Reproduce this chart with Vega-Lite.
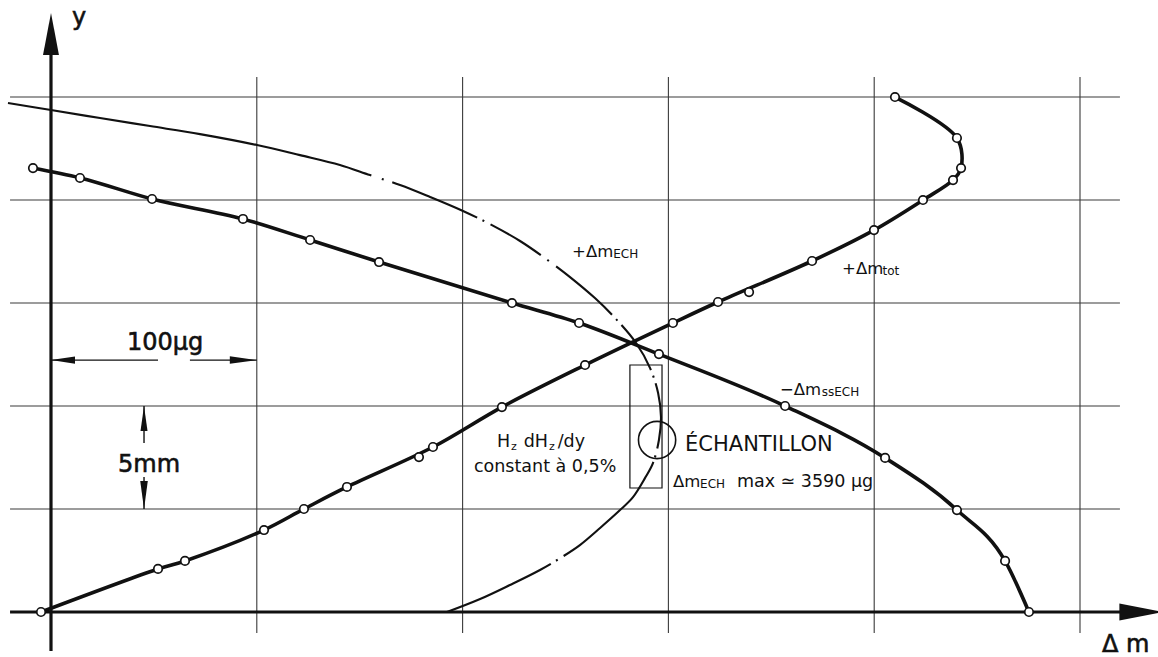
{
  "$schema": "https://vega.github.io/schema/vega-lite/v6.json",
  "width": 1158,
  "height": 657,
  "autosize": "none",
  "padding": 0,
  "background": "white",
  "config": {"view": {"stroke": null}},
  "datasets": {
    "seg": [
      {"k": "g", "x": 100, "y": -1.02, "x2": 100, "y2": 25.97},
      {"k": "g", "x": 200, "y": -1.02, "x2": 200, "y2": 25.97},
      {"k": "g", "x": 300, "y": -1.02, "x2": 300, "y2": 25.97},
      {"k": "g", "x": 400, "y": -1.02, "x2": 400, "y2": 25.97},
      {"k": "g", "x": 500, "y": -1.02, "x2": 500, "y2": 25.97},
      {"k": "g", "x": -19.9, "y": 5, "x2": 519.4, "y2": 5},
      {"k": "g", "x": -19.9, "y": 10, "x2": 519.4, "y2": 10},
      {"k": "g", "x": -19.9, "y": 15, "x2": 519.4, "y2": 15},
      {"k": "g", "x": -19.9, "y": 20, "x2": 519.4, "y2": 20},
      {"k": "g", "x": -19.9, "y": 25, "x2": 519.4, "y2": 25},
      {"k": "ax", "x": -19.9, "y": 0, "x2": 528, "y2": 0},
      {"k": "ax", "x": 0, "y": -1.89, "x2": 0, "y2": 27.5},
      {"k": "dim", "x": 0, "y": 12.23, "x2": 52.0, "y2": 12.23},
      {"k": "dim", "x": 67.5, "y": 12.23, "x2": 100, "y2": 12.23},
      {"k": "dim", "x": 45.2, "y": 10.0, "x2": 45.2, "y2": 8.2},
      {"k": "dim", "x": 45.2, "y": 6.55, "x2": 45.2, "y2": 5.0}
    ],
    "curves": [
      {"s": "ech", "i": 0, "x": -20.9, "y": 24.71, "ln": true, "mk": false},
      {"s": "ech", "i": 1, "x": 0, "y": 24.37, "ln": true, "mk": false},
      {"s": "ech", "i": 2, "x": 23.8, "y": 23.98, "ln": true, "mk": false},
      {"s": "ech", "i": 3, "x": 48.1, "y": 23.59, "ln": true, "mk": false},
      {"s": "ech", "i": 4, "x": 72.4, "y": 23.2, "ln": true, "mk": false},
      {"s": "ech", "i": 5, "x": 100.1, "y": 22.67, "ln": true, "mk": false},
      {"s": "ech", "i": 6, "x": 121.0, "y": 22.18, "ln": true, "mk": false},
      {"s": "ech", "i": 7, "x": 140.4, "y": 21.7, "ln": true, "mk": false},
      {"s": "ech", "i": 8, "x": 155.0, "y": 21.21, "ln": true, "mk": false},
      {"s": "ech", "i": 9, "x": 169.6, "y": 20.73, "ln": true, "mk": false},
      {"s": "ech", "i": 10, "x": 184.2, "y": 20.15, "ln": true, "mk": false},
      {"s": "ech", "i": 11, "x": 200.2, "y": 19.47, "ln": true, "mk": false},
      {"s": "ech", "i": 12, "x": 213.3, "y": 18.83, "ln": true, "mk": false},
      {"s": "ech", "i": 13, "x": 227.9, "y": 18.01, "ln": true, "mk": false},
      {"s": "ech", "i": 14, "x": 240.0, "y": 17.18, "ln": true, "mk": false},
      {"s": "ech", "i": 15, "x": 252.2, "y": 16.26, "ln": true, "mk": false},
      {"s": "ech", "i": 16, "x": 264.3, "y": 15.24, "ln": true, "mk": false},
      {"s": "ech", "i": 17, "x": 274.1, "y": 14.27, "ln": true, "mk": false},
      {"s": "ech", "i": 18, "x": 284.3, "y": 13.06, "ln": true, "mk": false},
      {"s": "ech", "i": 19, "x": 291.1, "y": 11.84, "ln": true, "mk": false},
      {"s": "ech", "i": 20, "x": 295.0, "y": 10.63, "ln": true, "mk": false},
      {"s": "ech", "i": 21, "x": 296.4, "y": 9.47, "ln": true, "mk": false},
      {"s": "ech", "i": 22, "x": 295.4, "y": 8.35, "ln": true, "mk": false},
      {"s": "ech", "i": 23, "x": 292.5, "y": 7.23, "ln": true, "mk": false},
      {"s": "ech", "i": 24, "x": 288.6, "y": 6.5, "ln": true, "mk": false},
      {"s": "ech", "i": 25, "x": 282.8, "y": 5.58, "ln": true, "mk": false},
      {"s": "ech", "i": 26, "x": 276.5, "y": 4.95, "ln": true, "mk": false},
      {"s": "ech", "i": 27, "x": 266.8, "y": 4.08, "ln": true, "mk": false},
      {"s": "ech", "i": 28, "x": 257.0, "y": 3.25, "ln": true, "mk": false},
      {"s": "ech", "i": 29, "x": 248.3, "y": 2.67, "ln": true, "mk": false},
      {"s": "ech", "i": 30, "x": 237.6, "y": 2.04, "ln": true, "mk": false},
      {"s": "ech", "i": 31, "x": 223.0, "y": 1.31, "ln": true, "mk": false},
      {"s": "ech", "i": 32, "x": 208.5, "y": 0.63, "ln": true, "mk": false},
      {"s": "ech", "i": 33, "x": 192.4, "y": 0, "ln": true, "mk": false},

      {"s": "tot", "i": 0, "x": -4.86, "y": 0, "ln": true, "mk": true},
      {"s": "tot", "i": 1, "x": 52.0, "y": 2.09, "ln": true, "mk": true},
      {"s": "tot", "i": 2, "x": 65.1, "y": 2.48, "ln": true, "mk": true},
      {"s": "tot", "i": 3, "x": 103.5, "y": 3.98, "ln": true, "mk": true},
      {"s": "tot", "i": 4, "x": 122.9, "y": 5.0, "ln": true, "mk": true},
      {"s": "tot", "i": 5, "x": 143.8, "y": 6.07, "ln": true, "mk": true},
      {"s": "tot", "i": 6, "x": 178.8, "y": 7.52, "ln": false, "mk": true},
      {"s": "tot", "i": 7, "x": 185.6, "y": 8.01, "ln": true, "mk": true},
      {"s": "tot", "i": 8, "x": 219.1, "y": 9.95, "ln": true, "mk": true},
      {"s": "tot", "i": 9, "x": 259.5, "y": 11.99, "ln": true, "mk": true},
      {"s": "tot", "i": 10, "x": 302.2, "y": 14.03, "ln": true, "mk": true},
      {"s": "tot", "i": 11, "x": 324.1, "y": 15.05, "ln": true, "mk": true},
      {"s": "tot", "i": 12, "x": 339.2, "y": 15.53, "ln": false, "mk": true},
      {"s": "tot", "i": 13, "x": 369.8, "y": 17.04, "ln": true, "mk": true},
      {"s": "tot", "i": 14, "x": 399.9, "y": 18.54, "ln": true, "mk": true},
      {"s": "tot", "i": 15, "x": 423.7, "y": 20.0, "ln": true, "mk": true},
      {"s": "tot", "i": 16, "x": 438.3, "y": 20.97, "ln": true, "mk": true},
      {"s": "tot", "i": 17, "x": 442.2, "y": 21.55, "ln": true, "mk": true},
      {"s": "tot", "i": 18, "x": 440.2, "y": 23.01, "ln": true, "mk": true},
      {"s": "tot", "i": 19, "x": 410.1, "y": 25.0, "ln": true, "mk": true},

      {"s": "ss", "i": 0, "x": -8.75, "y": 21.55, "ln": true, "mk": true},
      {"s": "ss", "i": 1, "x": 14.1, "y": 21.07, "ln": true, "mk": true},
      {"s": "ss", "i": 2, "x": 49.1, "y": 20.05, "ln": true, "mk": true},
      {"s": "ss", "i": 3, "x": 93.3, "y": 19.08, "ln": true, "mk": true},
      {"s": "ss", "i": 4, "x": 125.9, "y": 18.06, "ln": true, "mk": true},
      {"s": "ss", "i": 5, "x": 159.4, "y": 16.99, "ln": true, "mk": true},
      {"s": "ss", "i": 6, "x": 224.0, "y": 15.0, "ln": true, "mk": true},
      {"s": "ss", "i": 7, "x": 256.6, "y": 14.03, "ln": true, "mk": true},
      {"s": "ss", "i": 8, "x": 295.4, "y": 12.52, "ln": true, "mk": true},
      {"s": "ss", "i": 9, "x": 356.7, "y": 10.0, "ln": true, "mk": true},
      {"s": "ss", "i": 10, "x": 405.3, "y": 7.48, "ln": true, "mk": true},
      {"s": "ss", "i": 11, "x": 440.2, "y": 4.95, "ln": true, "mk": true},
      {"s": "ss", "i": 12, "x": 463.6, "y": 2.48, "ln": true, "mk": true},
      {"s": "ss", "i": 13, "x": 475.2, "y": 0, "ln": true, "mk": true}
    ],
    "arr": [
      {"k": "upbig", "x": 0, "y": 29.08},
      {"k": "rightbig", "x": 540.5, "y": 0},
      {"k": "left", "x": 0, "y": 12.23},
      {"k": "right", "x": 100, "y": 12.23},
      {"k": "up", "x": 45.2, "y": 10.0},
      {"k": "down", "x": 45.2, "y": 5.0}
    ],
    "box": [
      {"x": 281.3, "x2": 296.9, "y": 11.99, "y2": 6.02}
    ],
    "ring": [
      {"x": 294.5, "y": 8.35}
    ],
    "lab": [
      {"k": "big", "t": "y", "x": 10.2, "y": 28.5},
      {"k": "big", "t": "100µg", "x": 36.9, "y": 12.72},
      {"k": "big", "t": "5mm", "x": 32.6, "y": 6.8},
      {"k": "big", "t": "Δ m", "x": 510.7, "y": -1.94},
      {"k": "mid", "t": "+Δm", "x": 253.2, "y": 17.23},
      {"k": "mid", "t": "+Δm", "x": 384.4, "y": 16.41},
      {"k": "mid", "t": "−Δm", "x": 354.2, "y": 10.53},
      {"k": "mid", "t": "Δm", "x": 302.2, "y": 6.07},
      {"k": "sub", "t": "ECH", "x": 273.2, "y": 17.18},
      {"k": "sub", "t": "tot", "x": 404.0, "y": 16.36},
      {"k": "sub", "t": "ssECH", "x": 374.5, "y": 10.48},
      {"k": "sub", "t": "ECH", "x": 315.4, "y": 6.02},
      {"k": "txt", "t": "max ≃ 3590 µg", "x": 333.3, "y": 6.07},
      {"k": "txt", "t": "H", "x": 216.7, "y": 8.01},
      {"k": "txt", "t": "dH", "x": 229.7, "y": 8.01},
      {"k": "txt", "t": "/dy", "x": 246.2, "y": 8.01},
      {"k": "txt", "t": "constant à 0,5%", "x": 205.5, "y": 6.8},
      {"k": "z", "t": "z", "x": 223.5, "y": 7.86},
      {"k": "z", "t": "z", "x": 242.0, "y": 7.86},
      {"k": "ech", "t": "ÉCHANTILLON", "x": 308.1, "y": 7.82}
    ]
  },
  "encoding": {
    "x": {"field": "x", "type": "quantitative", "scale": {"domain": [-24.78, 537.9], "nice": false, "zero": false}, "axis": null},
    "y": {"field": "y", "type": "quantitative", "scale": {"domain": [-2.184, 29.71], "nice": false, "zero": false}, "axis": null}
  },
  "layer": [
    {
      "data": {"name": "seg"},
      "transform": [{"filter": "datum.k == 'g'"}],
      "mark": {"type": "rule", "color": "#3a3a3a", "strokeWidth": 1.1},
      "encoding": {"x2": {"field": "x2"}, "y2": {"field": "y2"}}
    },
    {
      "data": {"name": "seg"},
      "transform": [{"filter": "datum.k == 'ax'"}],
      "mark": {"type": "rule", "color": "#111", "strokeWidth": 3.2},
      "encoding": {"x2": {"field": "x2"}, "y2": {"field": "y2"}}
    },
    {
      "data": {"name": "seg"},
      "transform": [{"filter": "datum.k == 'dim'"}],
      "mark": {"type": "rule", "color": "#111", "strokeWidth": 1.4},
      "encoding": {"x2": {"field": "x2"}, "y2": {"field": "y2"}}
    },
    {
      "data": {"name": "curves"},
      "transform": [{"filter": "datum.s == 'ech'"}],
      "mark": {"type": "line", "color": "#111", "strokeWidth": 2.1, "interpolate": "catmull-rom",
        "strokeDash": [371, 11, 2, 9, 92, 6, 2, 7, 59, 8, 2, 9, 74, 6, 2, 6, 54, 6, 2, 6, 66, 7, 2, 5, 132, 7, 2, 6, 300]},
      "encoding": {"order": {"field": "i", "type": "quantitative"}}
    },
    {
      "data": {"name": "curves"},
      "transform": [{"filter": "datum.s == 'tot' && datum.ln"}],
      "mark": {"type": "line", "color": "#111", "strokeWidth": 3.6, "interpolate": "catmull-rom"},
      "encoding": {"order": {"field": "i", "type": "quantitative"}}
    },
    {
      "data": {"name": "curves"},
      "transform": [{"filter": "datum.s == 'ss'"}],
      "mark": {"type": "line", "color": "#111", "strokeWidth": 3.6, "interpolate": "monotone"},
      "encoding": {"order": {"field": "i", "type": "quantitative"}}
    },
    {
      "data": {"name": "curves"},
      "transform": [{"filter": "datum.mk"}],
      "mark": {"type": "point", "shape": "circle", "filled": true, "fill": "white", "stroke": "#111", "strokeWidth": 1.7, "size": 72, "opacity": 1}
    },
    {
      "data": {"name": "arr"},
      "transform": [{"filter": "datum.k == 'upbig'"}],
      "mark": {"type": "point", "shape": "M0,0L-0.38,2L0.38,2Z", "size": 1764, "filled": true, "color": "#111", "opacity": 1, "strokeWidth": 0}
    },
    {
      "data": {"name": "arr"},
      "transform": [{"filter": "datum.k == 'rightbig'"}],
      "mark": {"type": "point", "shape": "M0,0L-2,-0.39L-2,0.39Z", "size": 1936, "filled": true, "color": "#111", "opacity": 1, "strokeWidth": 0}
    },
    {
      "data": {"name": "arr"},
      "transform": [{"filter": "datum.k == 'left'"}],
      "mark": {"type": "point", "shape": "M0,0L2,-0.3L2,0.3Z", "size": 576, "filled": true, "color": "#111", "opacity": 1, "strokeWidth": 0}
    },
    {
      "data": {"name": "arr"},
      "transform": [{"filter": "datum.k == 'right'"}],
      "mark": {"type": "point", "shape": "M0,0L-2,-0.28L-2,0.28Z", "size": 729, "filled": true, "color": "#111", "opacity": 1, "strokeWidth": 0}
    },
    {
      "data": {"name": "arr"},
      "transform": [{"filter": "datum.k == 'up'"}],
      "mark": {"type": "point", "shape": "M0,0L-0.28,2L0.28,2Z", "size": 625, "filled": true, "color": "#111", "opacity": 1, "strokeWidth": 0}
    },
    {
      "data": {"name": "arr"},
      "transform": [{"filter": "datum.k == 'down'"}],
      "mark": {"type": "point", "shape": "M0,0L-0.27,-2L0.27,-2Z", "size": 784, "filled": true, "color": "#111", "opacity": 1, "strokeWidth": 0}
    },
    {
      "data": {"name": "box"},
      "mark": {"type": "rect", "filled": false, "stroke": "#111", "strokeWidth": 1.2},
      "encoding": {"x2": {"field": "x2"}, "y2": {"field": "y2"}}
    },
    {
      "data": {"name": "ring"},
      "mark": {"type": "point", "shape": "circle", "filled": false, "stroke": "#111", "strokeWidth": 1.6, "size": 1385, "opacity": 1}
    },
    {
      "data": {"name": "lab"},
      "transform": [{"filter": "datum.k == 'big'"}],
      "mark": {"type": "text", "font": "DejaVu Sans", "fontSize": 24, "align": "left", "baseline": "alphabetic", "color": "#111", "stroke": "#111", "strokeWidth": 0.6},
      "encoding": {"text": {"field": "t"}}
    },
    {
      "data": {"name": "lab"},
      "transform": [{"filter": "datum.k == 'mid'"}],
      "mark": {"type": "text", "font": "DejaVu Sans", "fontSize": 16.5, "align": "left", "baseline": "alphabetic", "color": "#111"},
      "encoding": {"text": {"field": "t"}}
    },
    {
      "data": {"name": "lab"},
      "transform": [{"filter": "datum.k == 'sub'"}],
      "mark": {"type": "text", "font": "DejaVu Sans", "fontSize": 12, "align": "left", "baseline": "alphabetic", "color": "#111"},
      "encoding": {"text": {"field": "t"}}
    },
    {
      "data": {"name": "lab"},
      "transform": [{"filter": "datum.k == 'txt'"}],
      "mark": {"type": "text", "font": "DejaVu Sans", "fontSize": 17.5, "align": "left", "baseline": "alphabetic", "color": "#111"},
      "encoding": {"text": {"field": "t"}}
    },
    {
      "data": {"name": "lab"},
      "transform": [{"filter": "datum.k == 'z'"}],
      "mark": {"type": "text", "font": "DejaVu Sans", "fontSize": 11, "align": "left", "baseline": "alphabetic", "color": "#111"},
      "encoding": {"text": {"field": "t"}}
    },
    {
      "data": {"name": "lab"},
      "transform": [{"filter": "datum.k == 'ech'"}],
      "mark": {"type": "text", "font": "DejaVu Sans", "fontSize": 21, "align": "left", "baseline": "alphabetic", "color": "#111"},
      "encoding": {"text": {"field": "t"}}
    }
  ]
}
